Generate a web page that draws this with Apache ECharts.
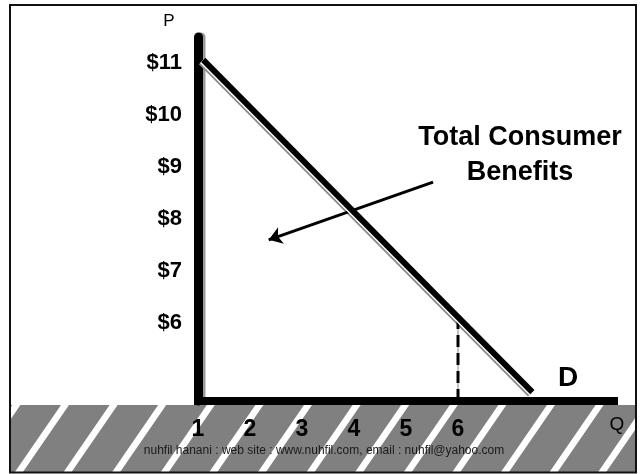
<!DOCTYPE html>
<html><head><meta charset="utf-8">
<script src="https://cdn.jsdelivr.net/npm/echarts@6/dist/echarts.min.js"></script>
<style>html,body{margin:0;padding:0;background:#fff}#c{width:640px;height:474px}</style>
</head><body><div id="c"></div>
<script>
// ---- data ----
const qTicks = [1, 2, 3, 4, 5, 6];
const priceTicks = [6, 7, 8, 9, 10, 11];
const demandQ = [1.1, 7.43];
const demandP = [11.06, 4.67];
const priceFloor = 4.5;
const benefitQ = 6;
const benefitP = 6.1;
const arrowFrom = [5.52, 8.71];
const arrowTo = [2.36, 7.6];
const annotation = 'Total Consumer\nBenefits';
const watermark = 'nuhfil hanani : web site : www.nuhfil.com, email : nuhfil@yahoo.com';

const FONT = '"Liberation Sans", Arial, sans-serif';
const chart = echarts.init(document.getElementById('c'));

// hatched band decoration
const bandTop = 405, bandBottom = 472.5;
const graphics = [];
graphics.push({type: 'rect', z: -3, shape: {x: 10, y: bandTop, width: 626, height: bandBottom - bandTop}, style: {fill: '#808080'}});
const shift = 46.4;
for (let k = -2; k < 15; k++) {
  const xc = 65 + 48.6 * k;
  graphics.push({type: 'polygon', z: -2, shape: {points: [[xc - 4, bandTop], [xc + 4, bandTop], [xc + 4 - shift, bandBottom], [xc - 4 - shift, bandBottom]]}, style: {fill: '#fff'}});
}
graphics.push({type: 'rect', z: -1, shape: {x: 0, y: bandTop - 1, width: 10, height: 70}, style: {fill: '#fff'}});
graphics.push({type: 'rect', z: -1, shape: {x: 636, y: bandTop - 1, width: 10, height: 70}, style: {fill: '#fff'}});
graphics.push({type: 'rect', z: 50, shape: {x: 10, y: 5, width: 626, height: 467.5}, style: {fill: 'none', stroke: '#111', lineWidth: 2}});
graphics.push({type: 'text', z: 50, x: 324, y: 451, style: {text: watermark, fill: '#1a1a1a', font: '12px ' + FONT, textAlign: 'center', textVerticalAlign: 'middle'}});
graphics.push({type: 'text', z: 50, x: 520, y: 120.5, style: {text: annotation, fill: '#000', font: 'bold 27px ' + FONT, textAlign: 'center', textVerticalAlign: 'top', lineHeight: 35}});
graphics.push({type: 'text', z: 50, x: 169, y: 21, style: {text: 'P', fill: '#000', font: '17px ' + FONT, textAlign: 'center', textVerticalAlign: 'middle'}});
graphics.push({type: 'text', z: 50, x: 617, y: 425, style: {text: 'Q', fill: '#000', font: '19px ' + FONT, textAlign: 'center', textVerticalAlign: 'middle'}});
graphics.push({type: 'text', z: 50, x: 568, y: 378, style: {text: 'D', fill: '#000', font: 'bold 28px ' + FONT, textAlign: 'center', textVerticalAlign: 'middle'}});

const demandData = demandQ.map((q, i) => [q, demandP[i]]);

chart.setOption({
  animation: false,
  backgroundColor: '#fff',
  grid: {left: 198, right: 26, top: 37, bottom: 73},
  xAxis: {
    type: 'value', min: 1, max: 9, interval: 1,
    axisLine: {onZero: false, lineStyle: {color: '#000', width: 8, cap: 'square'}},
    axisTick: {show: false}, splitLine: {show: false},
    axisLabel: {formatter: v => qTicks.includes(v) ? String(v) : '', fontSize: 23, fontWeight: 'bold', color: '#000', fontFamily: FONT, margin: 17}
  },
  yAxis: {
    type: 'value', min: priceFloor, max: 11.5, interval: 0.5,
    axisLine: {show: true, onZero: false, lineStyle: {color: '#000', width: 9, shadowColor: '#999', shadowOffsetX: 2.5, shadowBlur: 0}},
    axisTick: {show: false}, splitLine: {show: false},
    axisLabel: {formatter: v => priceTicks.includes(v) ? '$' + v : '', fontSize: 22, fontWeight: 'bold', color: '#000', fontFamily: FONT, margin: 16}
  },
  graphic: graphics,
  series: [
    {
      type: 'line', symbol: 'none', z: 4, silent: true,
      data: demandData,
      lineStyle: {color: '#fff', width: 6, shadowColor: '#888', shadowOffsetX: -2.2, shadowOffsetY: 2.2, shadowBlur: 0}
    },
    {
      type: 'line', name: 'Demand', symbol: 'none', z: 5,
      data: demandData,
      lineStyle: {color: '#000', width: 6, shadowColor: '#fff', shadowOffsetX: -1, shadowOffsetY: 1, shadowBlur: 0},
      markLine: {
        silent: true, symbol: ['none', 'arrow'], symbolSize: 13,
        label: {show: false},
        lineStyle: {color: '#000', width: 3, type: 'solid'},
        data: [[{coord: arrowFrom}, {coord: arrowTo}]]
      }
    },
    {
      type: 'line', symbol: 'none', z: 3,
      data: [[benefitQ, priceFloor], [benefitQ, benefitP]],
      lineStyle: {color: '#888', width: 1}
    },
    {
      type: 'line', symbol: 'none', z: 4,
      data: [[benefitQ, priceFloor], [benefitQ, benefitP]],
      lineStyle: {color: '#000', width: 3, type: [12, 6]}
    }
  ]
});
</script>
</body></html>
